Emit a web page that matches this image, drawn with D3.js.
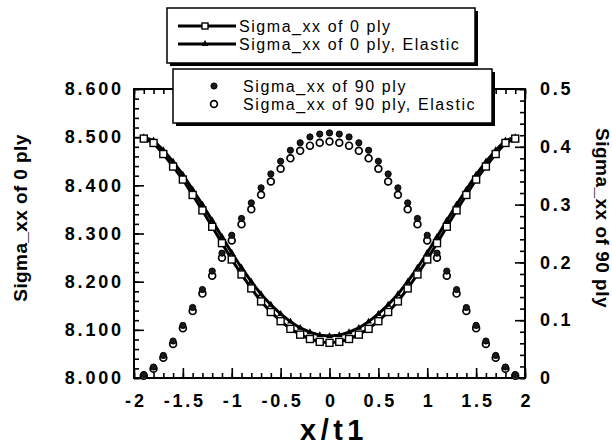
<!DOCTYPE html>
<html>
<head>
<meta charset="utf-8">
<script src="https://cdn.jsdelivr.net/npm/d3@7"></script>
<style>
  body { margin: 0; background: #fff; }
  text { font-family: "Liberation Sans", Arial, Helvetica, sans-serif; fill: #000; }
</style>
</head>
<body>
<script>
// x positions (x/t1)
var xs = [-1.9, -1.8, -1.7, -1.6, -1.5, -1.4, -1.3, -1.2, -1.1, -1.0,
  -0.9, -0.8, -0.7, -0.6, -0.5, -0.4, -0.3, -0.2, -0.1, 0,
  0.1, 0.2, 0.3, 0.4, 0.5, 0.6, 0.7, 0.8, 0.9, 1.0,
  1.1, 1.2, 1.3, 1.4, 1.5, 1.6, 1.7, 1.8, 1.9];

// Sigma_xx of 0 ply (left axis)
var sig0 = [8.497, 8.488, 8.465, 8.439, 8.412, 8.380, 8.348, 8.314, 8.280, 8.246,
  8.215, 8.186, 8.159, 8.137, 8.118, 8.102, 8.090, 8.081, 8.075, 8.073,
  8.075, 8.081, 8.090, 8.102, 8.118, 8.137, 8.159, 8.186, 8.215, 8.246,
  8.280, 8.314, 8.348, 8.380, 8.412, 8.439, 8.465, 8.488, 8.497];
// Sigma_xx of 0 ply, Elastic
var sig0El = [8.500, 8.493, 8.473, 8.449, 8.422, 8.391, 8.360, 8.327, 8.293, 8.260,
  8.229, 8.200, 8.174, 8.152, 8.133, 8.117, 8.104, 8.095, 8.089, 8.087,
  8.089, 8.095, 8.104, 8.117, 8.133, 8.152, 8.174, 8.200, 8.229, 8.260,
  8.293, 8.327, 8.360, 8.391, 8.422, 8.449, 8.473, 8.493, 8.500];
// Sigma_xx of 90 ply (right axis)
var sig90 = [0.006, 0.019, 0.039, 0.064, 0.091, 0.122, 0.153, 0.185, 0.216, 0.247,
  0.276, 0.303, 0.329, 0.353, 0.375, 0.394, 0.407, 0.417, 0.422, 0.424,
  0.422, 0.417, 0.407, 0.394, 0.375, 0.353, 0.329, 0.303, 0.276, 0.247,
  0.216, 0.185, 0.153, 0.122, 0.091, 0.064, 0.039, 0.019, 0.006];
// Sigma_xx of 90 ply, Elastic
var sig90El = [0.004, 0.016, 0.035, 0.059, 0.086, 0.116, 0.146, 0.177, 0.208, 0.238,
  0.266, 0.292, 0.317, 0.340, 0.362, 0.380, 0.393, 0.402, 0.407, 0.409,
  0.407, 0.402, 0.393, 0.380, 0.362, 0.340, 0.317, 0.292, 0.266, 0.238,
  0.208, 0.177, 0.146, 0.116, 0.086, 0.059, 0.035, 0.016, 0.004];

var xTicks = [-2, -1.5, -1, -0.5, 0, 0.5, 1, 1.5, 2];
var yLeftTicks = [8.0, 8.1, 8.2, 8.3, 8.4, 8.5, 8.6];
var yRightTicks = [0, 0.1, 0.2, 0.3, 0.4, 0.5];

var legend0 = ["Sigma_xx of 0 ply", "Sigma_xx of 0 ply, Elastic"];
var legend90 = ["Sigma_xx of 90 ply", "Sigma_xx of 90 ply, Elastic"];

var W = 612, H = 448;
var m = {left: 134, right: 525, top: 89, bottom: 378};

var svg = d3.select("body").append("svg")
  .attr("width", W)
  .attr("height", H);

var x = d3.scaleLinear().domain([-2, 2]).range([m.left, m.right]);
var yL = d3.scaleLinear().domain([8.0, 8.6]).range([m.bottom, m.top]);
var yR = d3.scaleLinear().domain([0, 0.5]).range([m.bottom, m.top]);

var fs = 18, ls = 2.8; // tick numbers: big bold, a bit tracked

// minor tick values
var xMinor = d3.range(-20, 21).map(function(i) { return i / 10; });
var yLMinor = d3.range(0, 31).map(function(i) { return 8 + i * 0.02; });
var yRMinor = d3.range(0, 26).map(function(i) { return i * 0.02; });

function strip(g) {
  g.select(".domain").remove();
  g.selectAll("line").attr("stroke", "#000").attr("stroke-width", 1.6);
}
function bold(g) {
  g.selectAll("text")
    .attr("font-size", fs).attr("font-weight", "bold")
    .attr("letter-spacing", ls)
    .attr("font-family", "Liberation Sans, Arial, sans-serif");
}

// bottom
svg.append("g").attr("transform", "translate(0," + m.bottom + ")")
  .call(d3.axisBottom(x).tickValues(xMinor).tickSize(-5).tickFormat(""))
  .call(strip);
svg.append("g").attr("transform", "translate(0," + m.bottom + ")")
  .call(d3.axisBottom(x).tickValues(xTicks).tickSize(-10).tickPadding(16)
    .tickFormat(function(d) { return String(d); }))
  .call(strip).call(bold)
  .call(function(g) { g.selectAll("text").attr("dx", ls / 2); });
// top
svg.append("g").attr("transform", "translate(0," + m.top + ")")
  .call(d3.axisTop(x).tickValues(xMinor).tickSize(-5).tickFormat(""))
  .call(strip);
svg.append("g").attr("transform", "translate(0," + m.top + ")")
  .call(d3.axisTop(x).tickValues(xTicks).tickSize(-10).tickFormat(""))
  .call(strip);
// left
svg.append("g").attr("transform", "translate(" + m.left + ",0)")
  .call(d3.axisLeft(yL).tickValues(yLMinor).tickSize(-5).tickFormat(""))
  .call(strip);
svg.append("g").attr("transform", "translate(" + m.left + ",0)")
  .call(d3.axisLeft(yL).tickValues(yLeftTicks).tickSize(-10).tickPadding(13)
    .tickFormat(d3.format(".3f")))
  .call(strip).call(bold)
  .call(function(g) { g.selectAll("text").attr("dx", ls); });
// right
svg.append("g").attr("transform", "translate(" + m.right + ",0)")
  .call(d3.axisRight(yR).tickValues(yRMinor).tickSize(-5).tickFormat(""))
  .call(strip);
svg.append("g").attr("transform", "translate(" + m.right + ",0)")
  .call(d3.axisRight(yR).tickValues(yRightTicks).tickSize(-10).tickPadding(15)
    .tickFormat(function(d) { return String(d); }))
  .call(strip).call(bold);

// frame
svg.append("rect")
  .attr("x", m.left).attr("y", m.top)
  .attr("width", m.right - m.left).attr("height", m.bottom - m.top)
  .attr("fill", "none").attr("stroke", "#000").attr("stroke-width", 2);

// lines of the 0 ply series
var line0 = d3.line().x(function(d, i) { return x(xs[i]); }).y(function(d) { return yL(d); });
svg.append("path").datum(sig0El)
  .attr("d", line0).attr("fill", "none").attr("stroke", "#000").attr("stroke-width", 3);
svg.append("path").datum(sig0)
  .attr("d", line0).attr("fill", "none").attr("stroke", "#000").attr("stroke-width", 3);

// triangles (elastic 0 ply)
var tri = d3.symbol().type(d3.symbolTriangle).size(20);
svg.append("g").selectAll("path").data(sig0El).join("path")
  .attr("d", tri)
  .attr("transform", function(d, i) { return "translate(" + x(xs[i]) + "," + yL(d) + ")"; })
  .attr("fill", "#000");

// squares (0 ply)
svg.append("g").selectAll("rect").data(sig0).join("rect")
  .attr("x", function(d, i) { return x(xs[i]) - 3.5; })
  .attr("y", function(d) { return yL(d) - 3.5; })
  .attr("width", 7).attr("height", 7)
  .attr("fill", "#fff").attr("stroke", "#000").attr("stroke-width", 1.4);

// open circles (90 ply elastic)
svg.append("g").selectAll("circle").data(sig90El).join("circle")
  .attr("cx", function(d, i) { return x(xs[i]); })
  .attr("cy", function(d) { return yR(d); })
  .attr("r", 3.4)
  .attr("fill", "#fff").attr("stroke", "#000").attr("stroke-width", 1.7);

// filled circles (90 ply)
svg.append("g").selectAll("circle").data(sig90).join("circle")
  .attr("cx", function(d, i) { return x(xs[i]); })
  .attr("cy", function(d) { return yR(d); })
  .attr("r", 3.1)
  .attr("fill", "#1a1a1a").attr("stroke", "#000").attr("stroke-width", 1);

// axis titles
svg.append("text")
  .attr("transform", "translate(27,218) rotate(-90)")
  .attr("text-anchor", "middle")
  .attr("font-size", 19).attr("font-weight", "bold").attr("letter-spacing", 0.4)
  .text("Sigma_xx of 0 ply");
svg.append("text")
  .attr("transform", "translate(596,218) rotate(90)")
  .attr("text-anchor", "middle")
  .attr("font-size", 19).attr("font-weight", "bold").attr("letter-spacing", 0.5)
  .text("Sigma_xx of 90 ply");
svg.append("text")
  .attr("x", 334).attr("y", 440)
  .attr("text-anchor", "middle")
  .attr("font-size", 29).attr("font-weight", "bold").attr("letter-spacing", 4.5)
  .text("x/t1");

// legend boxes
function box(x0, y0, w, h) {
  svg.append("rect").attr("x", x0 + 3).attr("y", y0 + 3).attr("width", w).attr("height", h)
    .attr("fill", "#000");
  svg.append("rect").attr("x", x0).attr("y", y0).attr("width", w).attr("height", h)
    .attr("fill", "#fff").attr("stroke", "#000").attr("stroke-width", 1.5);
}

box(167, 8, 308, 55);
var lg0 = svg.append("g");
legend0.forEach(function(t, i) {
  var yy = 26 + i * 18;
  lg0.append("line").attr("x1", 178).attr("x2", 236).attr("y1", yy).attr("y2", yy)
    .attr("stroke", "#000").attr("stroke-width", 3);
  if (i === 0) {
    lg0.append("rect").attr("x", 202).attr("y", yy - 3).attr("width", 6).attr("height", 6)
      .attr("fill", "#fff").attr("stroke", "#000").attr("stroke-width", 1.4);
  } else {
    lg0.append("path").attr("d", tri).attr("transform", "translate(205," + yy + ")").attr("fill", "#000");
  }
  lg0.append("text").attr("x", 239).attr("y", yy + 6)
    .attr("font-size", 16).attr("letter-spacing", 1.55).text(t);
});

box(173, 69, 319, 54);
var lg90 = svg.append("g");
legend90.forEach(function(t, i) {
  var yy = 86 + i * 18;
  lg90.append("circle").attr("cx", 214).attr("cy", yy).attr("r", i === 0 ? 3.1 : 3.4)
    .attr("fill", i === 0 ? "#1a1a1a" : "#fff").attr("stroke", "#000")
    .attr("stroke-width", i === 0 ? 1 : 1.7);
  lg90.append("text").attr("x", 243).attr("y", yy + 6)
    .attr("font-size", 16).attr("letter-spacing", 1.6).text(t);
});
</script>
</body>
</html>
